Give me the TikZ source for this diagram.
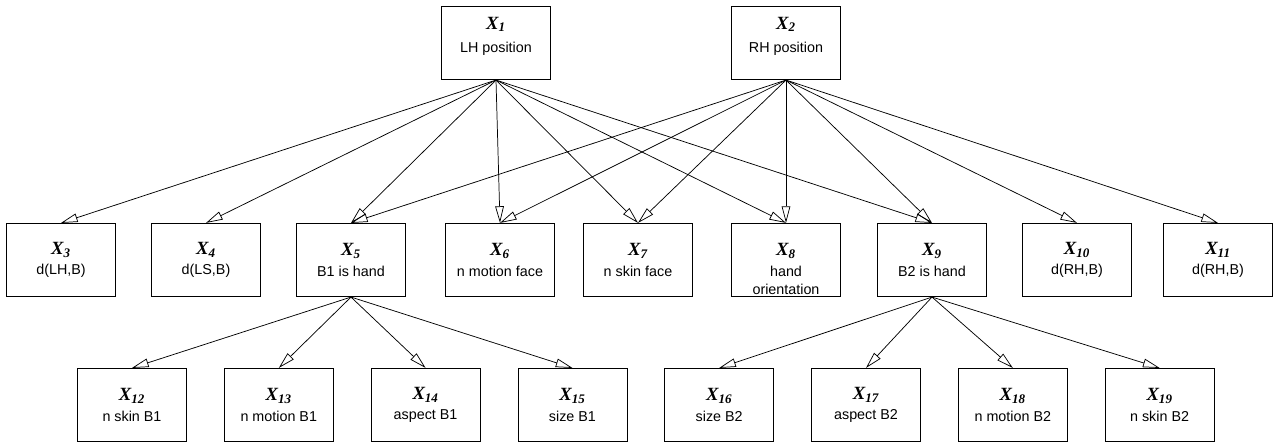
\documentclass[tikz,border=0pt]{standalone}
\usepackage{fontspec}
\setmainfont{Liberation Sans}
\newfontfamily\xfont{Liberation Serif}
\usetikzlibrary{positioning,arrows.meta}
\newcommand{\xv}[1]{{\xfont\bfseries\itshape\fontsize{14}{16}\selectfont X\textsubscript{#1}}}
\tikzset{
    var/.style = {
        draw,
        line width = 0.6pt,
        minimum width = 81.75pt,
        minimum height = 55pt,
        align = center,
        inner sep = 2pt,
        font = \fontsize{10.75}{13.5}\selectfont,
    },
    dep/.style = {
        -{Triangle[open,length=12.5pt,width=6.5pt]},
        line width = 0.55pt,
    }
}

\begin{document}
\begin{tikzpicture}[x=0.75pt,y=-0.75pt]
    \useasboundingbox (0,0) rectangle (1278,446);

    % top row, a little higher in the box
    \node[var] (LHpos) at (496,43) {\xv{1}\\[4pt]LH position\\[-5pt]\strut};
    \node[var] (RHpos) at (786,43) {\xv{2}\\[4pt]RH position\\[-5pt]\strut};

    \node[var] (dLH)   at (61,260)   {\xv{3}\\[2pt]d(LH,B)};
    \node[var] (dLS)   at (206,260)  {\xv{4}\\[2pt]d(LS,B)};
    \node[var] (BoneH) at (351,260)  {\xv{5}\\[2pt]B1 is hand};
    \node[var] (nMotF) at (500,260)  {\xv{6}\\[2pt]n motion face};
    \node[var] (nSkF)  at (638,260)  {\xv{7}\\[2pt]n skin face};
    \node[var] (HOr)   at (786,260)  {\xv{8}\\[2pt]\smash{\begin{tabular}[t]{@{}c@{}}hand\\orientation\end{tabular}}};
    \node[var] (BtwoH) at (932,260)  {\xv{9}\\[2pt]B2 is hand};
    \node[var] (dRH)   at (1077,260) {\xv{10}\\[2pt]d(RH,B)};
    \node[var] (dRHb)  at (1218,260) {\xv{11}\\[2pt]d(RH,B)};

    \node[var] (nSkBone) at (132,405) {\xv{12}\\[2pt]n skin B1};
    \node[var, right=27.75pt of nSkBone] (nMotBone) {\xv{13}\\[2pt]n motion B1};
    \node[var, right=27.75pt of nMotBone] (aspBone) {\xv{14}\\[2pt]aspect B1};
    \node[var, right=27.75pt of aspBone] (sizeBone) {\xv{15}\\[2pt]size B1};
    \node[var, right=27.75pt of sizeBone] (sizeBtwo) {\xv{16}\\[2pt]size B2};
    \node[var, right=27.75pt of sizeBtwo] (aspBtwo) {\xv{17}\\[2pt]aspect B2};
    \node[var, right=27.75pt of aspBtwo] (nMotBtwo) {\xv{18}\\[2pt]n motion B2};
    \node[var, right=27.75pt of nMotBtwo] (nSkBtwo) {\xv{19}\\[2pt]n skin B2};

    \foreach \c in {dLH,dLS,BoneH,nMotF,nSkF,HOr,BtwoH}
        \draw[dep] (LHpos.south) to (\c.north);
    \foreach \c in {BoneH,nMotF,nSkF,HOr,BtwoH,dRH,dRHb}
        \draw[dep] (RHpos.south) to (\c.north);

    \foreach \c in {nSkBone,nMotBone,aspBone,sizeBone}
        \draw[dep] (BoneH.south) to (\c.north);
    \foreach \c in {sizeBtwo,aspBtwo,nMotBtwo,nSkBtwo}
        \draw[dep] (BtwoH.south) to (\c.north);

\end{tikzpicture}
\end{document}
